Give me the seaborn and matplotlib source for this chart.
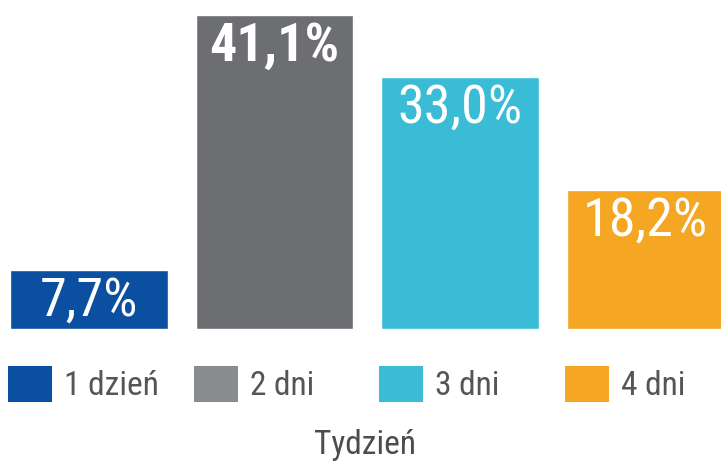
import numpy as np
import pandas as pd
import seaborn as sns
import matplotlib
matplotlib.use('agg')
import matplotlib.pyplot as plt
from matplotlib.patches import Patch

# data
categories = ['1 dzień', '2 dni', '3 dni', '4 dni']
values = [7.7, 41.1, 33.0, 18.2]
bar_colors = ['#0b4fa0', '#6d6e72', '#3bbcd6', '#f5a623']
legend_colors = ['#0b4fa0', '#8a8b8d', '#3bbcd6', '#f5a623']
bold_labels = [False, True, False, False]
xlabel = 'Tydzień'

sns.set_style('white')
plt.rcParams['font.family'] = ['Roboto Condensed', 'Liberation Sans Narrow', 'DejaVu Sans']

fig = plt.figure(figsize=(7.21, 4.61), dpi=100)
ax = fig.add_axes([0, 1 - 329 / 461, 1, 314 / 461])

df = pd.DataFrame({'cat': categories, 'val': values})
sns.barplot(data=df, x='cat', y='val', hue='cat', palette=bar_colors,
            saturation=1, width=0.85, legend=False, ax=ax)

ax.set_xlim(-0.479, -0.479 + 721 / 185.5)
ax.set_ylim(0, 41.1)
ax.axis('off')

for i, v in enumerate(values):
    txt = ('%.1f' % v).replace('.', ',') + '%'
    ax.annotate(txt, (i, v), xytext=(0, -4), textcoords='offset points',
                ha='center', va='top', color='white', fontsize=39,
                fontweight='bold' if bold_labels[i] else 'normal')

# one legend entry under each bar
for i, (c, lab) in enumerate(zip(legend_colors, categories)):
    x0 = (10 + i * 185.5) / 721
    leg = fig.legend(handles=[Patch(facecolor=c, edgecolor='none', label=lab)],
                     loc='center left', bbox_to_anchor=(x0 - 0.012, 1 - 384 / 461),
                     frameon=False, fontsize=24, handlelength=1.33, handleheight=1.33,
                     handletextpad=0.36, borderaxespad=0, borderpad=0.2,
                     labelcolor='#555555')

fig.text(365 / 721, 1 - 445 / 461, xlabel, ha='center', va='center',
         fontsize=24, color='#4d4d4d')

fig.savefig('out.png', dpi=100)
